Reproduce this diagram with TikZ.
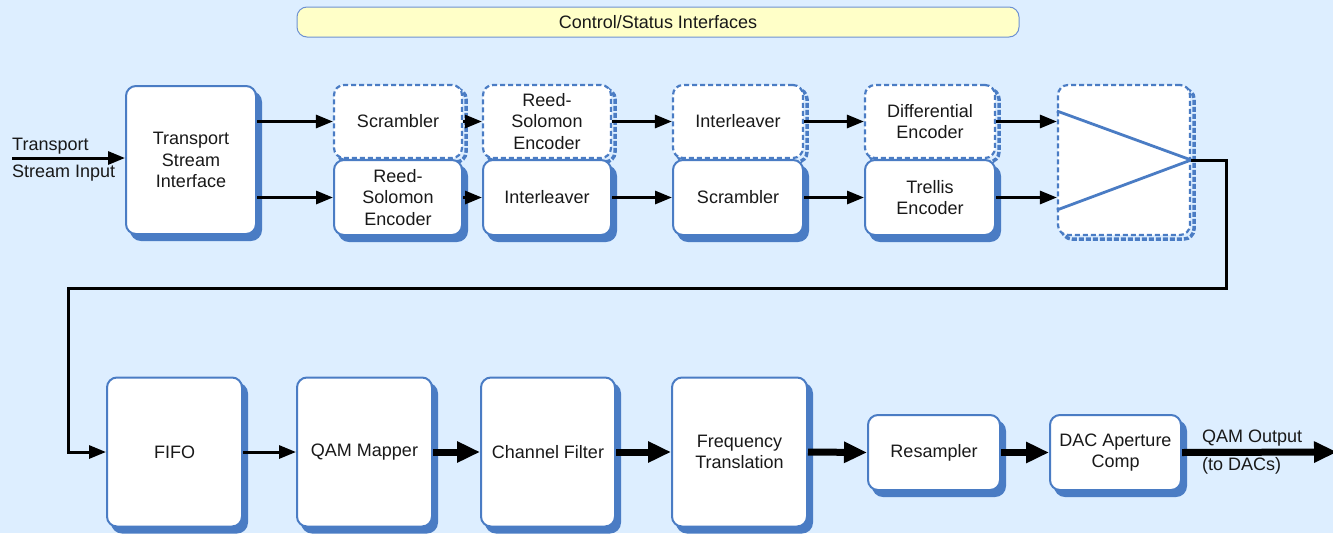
\documentclass[tikz,border=0pt]{standalone}
\usepackage{fontspec}
\setmainfont{Liberation Sans}
\usetikzlibrary{arrows.meta}
\definecolor{bgblue}{RGB}{221,238,255}
\definecolor{boxblue}{RGB}{74,124,196}
\definecolor{barfill}{RGB}{255,255,200}
\definecolor{barline}{RGB}{110,145,210}
\definecolor{txt}{RGB}{25,25,25}
\begin{document}
\begin{tikzpicture}[x=1pt,y=-1pt,
  every node/.style={font=\fontsize{18}{21.5}\selectfont, text=txt, align=center, inner sep=0pt},
  blk/.style={draw=boxblue, line width=2pt, fill=white, rounded corners=10pt,
    preaction={draw=boxblue, fill=boxblue, line width=2pt, transform canvas={xshift=5pt,yshift=-6pt}}},
  dblk/.style={draw=boxblue, line width=2.2pt, dash pattern=on 5pt off 3pt, fill=white, rounded corners=10pt,
    preaction={draw=boxblue, line width=3.5pt, dash pattern=on 5pt off 2pt, transform canvas={xshift=4pt,yshift=-4pt}}},
  bar/.style={draw=barline, line width=1pt, fill=barfill, rounded corners=10pt},
  thinarr/.style={draw=black, line width=3pt, -{Triangle[length=17pt,width=13pt]}},
  thickarr/.style={draw=black, line width=7pt, -{Triangle[length=23pt,width=20pt]}},
]
\useasboundingbox (0,0) rectangle (1333,533);
\fill[bgblue] (0,0) rectangle (1333,533);

% control bar
\node[bar, minimum width=722pt, minimum height=30pt] (ctrl) at (658,22) {Control/Status Interfaces};

% top row
\node[blk, minimum width=130pt, minimum height=148pt] (tsi) at (191,160) {Transport\\Stream\\Interface};
\node[dblk, minimum width=128pt, minimum height=73pt] (s1) at (398,121.5) {Scrambler};
\node[blk, minimum width=128pt, minimum height=75pt] (rs2) at (398,197.5) {Reed-\\Solomon\\Encoder};
\node[dblk, minimum width=128pt, minimum height=73pt] (rs1) at (547,121.5) {Reed-\\Solomon\\Encoder};
\node[blk, minimum width=128pt, minimum height=75pt] (il2) at (547,197.5) {Interleaver};
\node[dblk, minimum width=130pt, minimum height=73pt] (il1) at (738,121.5) {Interleaver};
\node[blk, minimum width=130pt, minimum height=75pt] (sc2) at (738,197.5) {Scrambler};
\node[dblk, minimum width=130pt, minimum height=73pt] (de1) at (930,121.5) {Differential\\Encoder};
\node[blk, minimum width=130pt, minimum height=75pt] (tr2) at (930,197.5) {Trellis\\Encoder};
\node[dblk, minimum width=132pt, minimum height=150pt] (mux) at (1124,160) {};
\draw[boxblue, line width=2.8pt] ([yshift=49pt]mux.west) -- (mux.east) -- ([yshift=-50pt]mux.west);

% input
\coordinate (in) at (12,158);
\node[anchor=west] (lblA) at (12,146) {Transport};
\node[anchor=west] (lblB) at (12,173) {Stream Input};
\draw[thinarr] (in) -- (in -| tsi.west);

% top arrows
\draw[thinarr] (tsi.east |- s1.west) -- (s1.west);
\draw[thinarr] (tsi.east |- rs2.west) -- (rs2.west);
\draw[thinarr] (s1.east) -- (rs1.west);
\draw[thinarr] (rs2.east) -- (il2.west);
\draw[thinarr] (rs1.east) -- (il1.west);
\draw[thinarr] (il2.east) -- (sc2.west);
\draw[thinarr] (il1.east) -- (de1.west);
\draw[thinarr] (sc2.east) -- (tr2.west);
\draw[thinarr] (de1.east) -- (mux.west |- de1.east);
\draw[thinarr] (tr2.east) -- (mux.west |- tr2.east);

% bottom row
\node[blk, minimum width=135pt, minimum height=149pt] (fifo) at (174.5,452) {FIFO};
\node[blk, minimum width=135pt, minimum height=149pt] (qam) at (364.5,452) {QAM Mapper};
\node[blk, minimum width=134pt, minimum height=149pt] (cf) at (548,452) {Channel Filter};
\node[blk, minimum width=135pt, minimum height=149pt] (ft) at (739.5,452) {Frequency\\Translation};
\node[blk, minimum width=132pt, minimum height=75pt] (res) at (934,452.5) {Resampler};
\node[blk, minimum width=131pt, minimum height=75pt] (dac) at (1115.5,452.5) {DAC Aperture\\Comp};

% loop connector
\coordinate (turnA) at (1226,288);
\coordinate (turnB) at (68,288);
\draw[thinarr] (mux.east) -| (turnA) -- (turnB) |- (fifo.west);

% bottom arrows
\draw[thinarr] (fifo.east) -- (qam.west);
\draw[thickarr] (qam.east) -- (cf.west);
\draw[thickarr] (cf.east) -- (ft.west);
\draw[thickarr] (ft.east) -- (res.west);
\draw[thickarr] (res.east) -- (dac.west);
\coordinate (out) at (1337,452);
\draw[thickarr] (dac.east) -- (out);
\node[anchor=west] (lblC) at (1202,438) {QAM Output};
\node[anchor=west] (lblD) at (1202,466) {(to DACs)};
\end{tikzpicture}
\end{document}
